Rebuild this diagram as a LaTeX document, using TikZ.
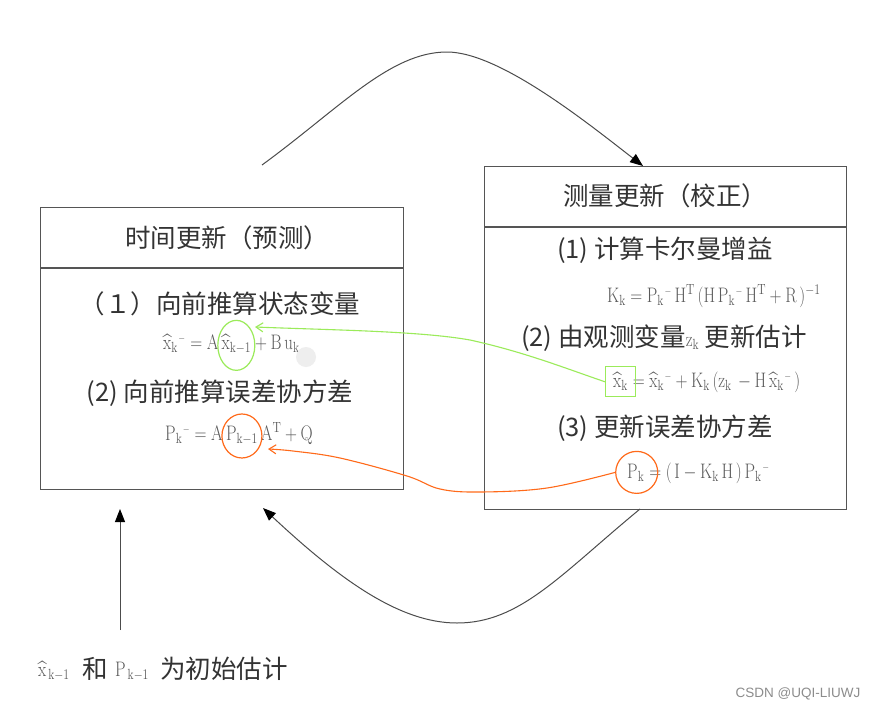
\documentclass[tikz,border=0pt]{standalone}
\usepackage{fontspec}
\usepackage{graphicx}
\newfontfamily\cjk{Noto Sans CJK SC}
\newfontfamily\wmfont{Liberation Sans}
\usetikzlibrary{arrows.meta,shapes.geometric}
\definecolor{boxgray}{HTML}{555555}
\definecolor{txt}{HTML}{333333}
\definecolor{eqc}{HTML}{5A5A5A}
\definecolor{grn}{HTML}{9BEB5A}
\definecolor{org}{HTML}{FF6A1A}
\definecolor{dotgray}{HTML}{EEEEEE}
\newcommand{\cnsize}{\fontsize{25.5}{30}\selectfont}
\newcommand{\eqsize}{\fontsize{21}{24}\selectfont}
\newcommand{\eqt}[1]{{\color{eqc}\eqsize\scalebox{0.8}[1]{$\mathrm{#1}$}}}
\newcommand{\smn}{{}^{\mkern1mu\scriptscriptstyle -}}
\begin{document}
\begin{tikzpicture}[x=1pt,y=-1pt,
  frame/.style={draw=boxgray, line width=1.2pt, inner sep=0pt},
  cn/.style={text=txt, font=\cjk\cnsize, inner sep=0pt},
  eq/.style={inner sep=0pt, anchor=base west},
  flow/.style={draw=black!70, line width=1pt, -{Triangle[length=13pt,width=10pt,color=black]}},
  gmark/.style={draw=grn, line width=1.2pt, inner sep=0pt},
  omark/.style={draw=org, line width=1.2pt, inner sep=0pt}]
\useasboundingbox[fill=white] (0,0) rectangle (874,712);

% frames
\node[frame, minimum width=363pt, minimum height=282pt, anchor=north west] (L) at (40,207) {};
\draw[frame] (40,268) -- (403,268);
\node[frame, minimum width=362pt, minimum height=343pt, anchor=north west] (R) at (484,166) {};
\draw[frame] (484,227) -- (846,227);

% titles
\node[cn] (Lt) at (227,238) {时间更新（预测）};
\node[cn] (Rt) at (665,196) {测量更新（校正）};

% left contents
\node[cn] (L1) at (220,304) {（１）向前推算状态变量};
\node[eq] (Le1a) at (163,349) {\eqt{\hat{x}_k\smn=A\,}};
\node[eq] (Le1b) at (Le1a.base east) {\eqt{\hat{x}_{k-1}}};
\node[eq] (Le1c) at (Le1b.base east) {\eqt{{}+B\,u_k}};
\node[cn] (L2) at (220,393) {(2) 向前推算误差协方差};
\node[eq] (Le2a) at (165,440) {\eqt{P_k\smn=A\,}};
\node[eq] (Le2b) at (Le2a.base east) {\eqt{P_{k-1}}};
\node[eq] (Le2c) at (Le2b.base east) {\eqt{\,A^T+Q}};

% right contents
\node[cn] (R1) at (665,250) {(1) 计算卡尔曼增益};
\node[eq] (Re1) at (607,302) {\eqt{K_k=P_k\smn\,H^T\,(H\,P_k\smn\,H^T+R\,)^{-1}}};
\node[cn] (R2) at (664,338) {(2) 由观测变量\eqt{z_k} 更新估计};
\node[eq] (Re2a) at (613,387) {\eqt{\hat{x}_k}};
\node[eq] (Re2b) at (Re2a.base east) {\eqt{{}=\hat{x}_k\smn+K_k\,(z_k\,-H\,\hat{x}_k\smn\,)}};
\node[cn] (R3) at (665,428) {(3) 更新误差协方差};
\node[eq] (Re3a) at (627,478) {\eqt{P_k}};
\node[eq] (Re3b) at (Re3a.base east) {\eqt{{}=(\,I-K_k\,H\,)\,P_k\smn}};

% bottom text
\node[eq] (B1) at (38,676) {\eqt{\hat{x}_{\,k-1}}};
\node[cn, anchor=base west] (B2) at (82,678) {和};
\node[eq] (B3) at (115,676) {\eqt{P_{\,k-1}}};
\node[cn, anchor=base west] (B4) at (160,678) {为初始估计};

% faint dot
\fill[dotgray] (306,357) circle (10);

% marks
\node[gmark, ellipse, minimum width=37pt, minimum height=50pt] (gell) at ([yshift=-2pt]Le1b.center) {};
\node[omark, ellipse, minimum width=40pt, minimum height=44pt] (oell) at ([yshift=-1pt]Le2b.center) {};
\node[gmark, rectangle, minimum width=30pt, minimum height=30pt] (gbox) at ([yshift=-1pt]Re2a.center) {};
\node[omark, circle, minimum size=42pt] (ocirc) at ([xshift=1pt]Re3a.center) {};

% coloured connectors
\coordinate (gend) at (255,327);
\draw[grn, line width=1.1pt, -{Straight Barb[length=7pt,width=9pt]}]
  (gbox.west) .. controls (570,370) and (525,352) .. (470,340)
  .. controls (420,331) and (330,330) .. (gend);
\coordinate (oend) at (268,449);
\draw[org, line width=1.1pt, -{Straight Barb[length=7pt,width=9pt]}]
  plot[smooth, tension=0.6] coordinates {(ocirc.west) (547,488) (480,492) (440,489) (407,476) (340,458) (293,451) (oend)};

% flow arrows
\coordinate (t1) at (262,165);
\coordinate (t2) at (643,166);
\draw[flow] (t1) .. controls (340,108) and (390,52) .. (447,52)
  .. controls (500,52) and (590,125) .. (t2);
\coordinate (b1) at (640,509);
\coordinate (b2) at (263,508);
\draw[flow] (b1) .. controls (560,575) and (520,623) .. (457,623)
  .. controls (400,623) and (340,580) .. (b2);
\coordinate (v1) at (120,630);
\coordinate (v2) at (120,509);
\draw[flow] (v1) -- (v2);

% watermark
\node[text=black!45, font=\wmfont\fontsize{13.5}{15}\selectfont, inner sep=0pt] (wm) at (798,694) {CSDN @UQI-LIUWJ};
\end{tikzpicture}
\end{document}
